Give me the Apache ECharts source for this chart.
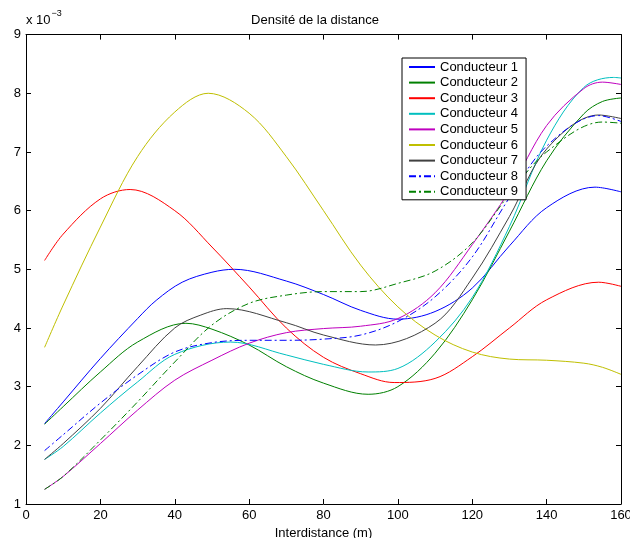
<!DOCTYPE html>
<html><head><meta charset="utf-8">
<script src="https://cdn.jsdelivr.net/npm/echarts@6/dist/echarts.min.js"></script>
<style>html,body{margin:0;padding:0;background:#fff}#c{width:630px;height:538px}</style>
</head><body><div id="c"></div>
<script>
// Per-series sample positions (m) and density values (x 10^-3)
const x1 = [5,10,20,30,35,42,50,56,70,80,90,100,110,120,130,140,153,160];
const c1 = [2.37,2.74,3.48,4.16,4.47,4.78,4.95,5.00,4.80,4.57,4.30,4.15,4.28,4.68,5.40,6.05,6.40,6.32];
const x2 = [5,10,20,30,43,50,60,70,80,92,100,110,120,130,140,150,155,160];
const c2 = [2.36,2.66,3.25,3.76,4.08,3.98,3.71,3.34,3.06,2.87,3.00,3.57,4.48,5.65,6.85,7.65,7.86,7.92];
const x3 = [5,10,20,28,40,50,60,70,80,90,99,110,120,130,140,154,160];
const c3 = [5.15,5.60,6.20,6.36,6.00,5.38,4.70,4.00,3.50,3.22,3.07,3.14,3.51,4.00,4.48,4.78,4.71];
const x4 = [5,10,20,30,40,55,70,80,92,100,110,120,130,140,150,158,160];
const c4 = [1.76,1.98,2.55,3.08,3.55,3.76,3.54,3.38,3.25,3.31,3.76,4.52,5.73,7.20,8.10,8.27,8.26];
const x5 = [5,10,20,30,40,50,60,70,80,90,100,110,120,130,140,150,155,160];
const c5 = [1.25,1.47,2.03,2.60,3.11,3.45,3.74,3.92,3.99,4.03,4.16,4.60,5.42,6.34,7.45,8.08,8.19,8.15];
const x6 = [5,10,20,30,40,49,60,70,80,90,100,110,120,130,140,150,155,160];
const c6 = [3.67,4.39,5.72,6.92,7.68,8.00,7.66,6.92,6.00,5.07,4.36,3.88,3.59,3.47,3.45,3.40,3.33,3.21];
const x7 = [5,10,20,30,40,47,54,70,80,94,110,120,130,140,154,160];
const c7 = [1.76,2.03,2.63,3.34,4.00,4.22,4.33,4.09,3.88,3.71,4.08,4.85,5.90,7.05,7.63,7.57];
const x8 = [5,10,20,30,40,50,60,70,80,90,100,110,120,130,140,154,160];
const c8 = [1.91,2.18,2.72,3.20,3.59,3.75,3.79,3.79,3.81,3.88,4.11,4.53,5.21,6.22,7.10,7.62,7.52];
const x9 = [5,10,20,30,40,50,60,70,80,90,100,110,120,130,140,155,160];
const c9 = [1.25,1.47,2.09,2.74,3.42,4.05,4.42,4.56,4.62,4.62,4.76,4.97,5.45,6.28,7.00,7.51,7.49];
const names = ['Conducteur 1','Conducteur 2','Conducteur 3','Conducteur 4','Conducteur 5','Conducteur 6','Conducteur 7','Conducteur 8','Conducteur 9'];
const xTicks = [0,20,40,60,80,100,120,140,160];
const yTicks = [1,2,3,4,5,6,7,8,9];

const allX = [x1,x2,x3,x4,x5,x6,x7,x8,x9];
const allY = [c1,c2,c3,c4,c5,c6,c7,c8,c9];
const colors = ['#0000ff','#008000','#ff0000','#00bfbf','#bf00bf','#bfbf00','#404040','#0000ff','#008000'];
const dashes = ['solid','solid','solid','solid','solid','solid','solid',[7,3,2,3],[7,3,2,3]];
const F = '"Liberation Sans", Arial, Helvetica, sans-serif';

const chart = echarts.init(document.getElementById('c'), null, {renderer:'canvas'});
const axCommon = {
  axisLine:{show:true,onZero:false,lineStyle:{color:'#000',width:1}},
  axisTick:{show:true,inside:true,length:5,lineStyle:{color:'#000'}},
  splitLine:{show:false}
};
chart.setOption({
  animation:false,
  backgroundColor:'#fff',
  title:{text:'Densité de la distance',left:'center',top:9,textStyle:{fontFamily:F,fontSize:13,fontWeight:'normal',color:'#000'}},
  grid:{left:26,right:9,top:34.6,bottom:34,containLabel:false,outerBoundsMode:'none'},
  legend:{
    data:names, orient:'vertical', left:402, top:58,
    backgroundColor:'#fff', borderColor:'#000', borderWidth:1,
    padding:[2,8,1,6], itemWidth:26, itemHeight:10, itemGap:1.6,
    itemStyle:{opacity:0},
    textStyle:{fontFamily:F,fontSize:13,color:'#000',lineHeight:14}
  },
  xAxis:[
    Object.assign({type:'value',min:0,max:160,interval:20,position:'bottom',
      name:'Interdistance (m)',nameLocation:'middle',nameGap:18,
      nameTextStyle:{fontFamily:F,fontSize:13,color:'#000'},
      axisLabel:{fontFamily:F,fontSize:13,color:'#000',margin:5}},axCommon),
    Object.assign({type:'value',min:0,max:160,interval:20,position:'top',axisLabel:{show:false}},axCommon)
  ],
  yAxis:[
    Object.assign({type:'value',min:1,max:9,interval:1,position:'left',
      axisLabel:{fontFamily:F,fontSize:13,color:'#000',margin:5}},axCommon),
    Object.assign({type:'value',min:1,max:9,interval:1,position:'right',axisLabel:{show:false}},axCommon)
  ],
  graphic:[{
    type:'text', left:26, top:9,
    style:{text:'{a|x 10}{b|−3}', rich:{a:{fontFamily:F,fontSize:13,fill:'#000',padding:[6,0,0,0]},b:{fontFamily:F,fontSize:9,fill:'#000',padding:[0,0,8,1]}}}
  }],
  series: allY.map((arr,i)=>({
    name:names[i], type:'line', smooth:0.34, symbol:'none',
    xAxisIndex:0, yAxisIndex:0,
    data: allX[i].map((x,j)=>[x,arr[j]]),
    lineStyle:{color:colors[i],width:1,type:dashes[i]},
    itemStyle:{color:colors[i]},
    z: 2
  }))
});
</script></body></html>
